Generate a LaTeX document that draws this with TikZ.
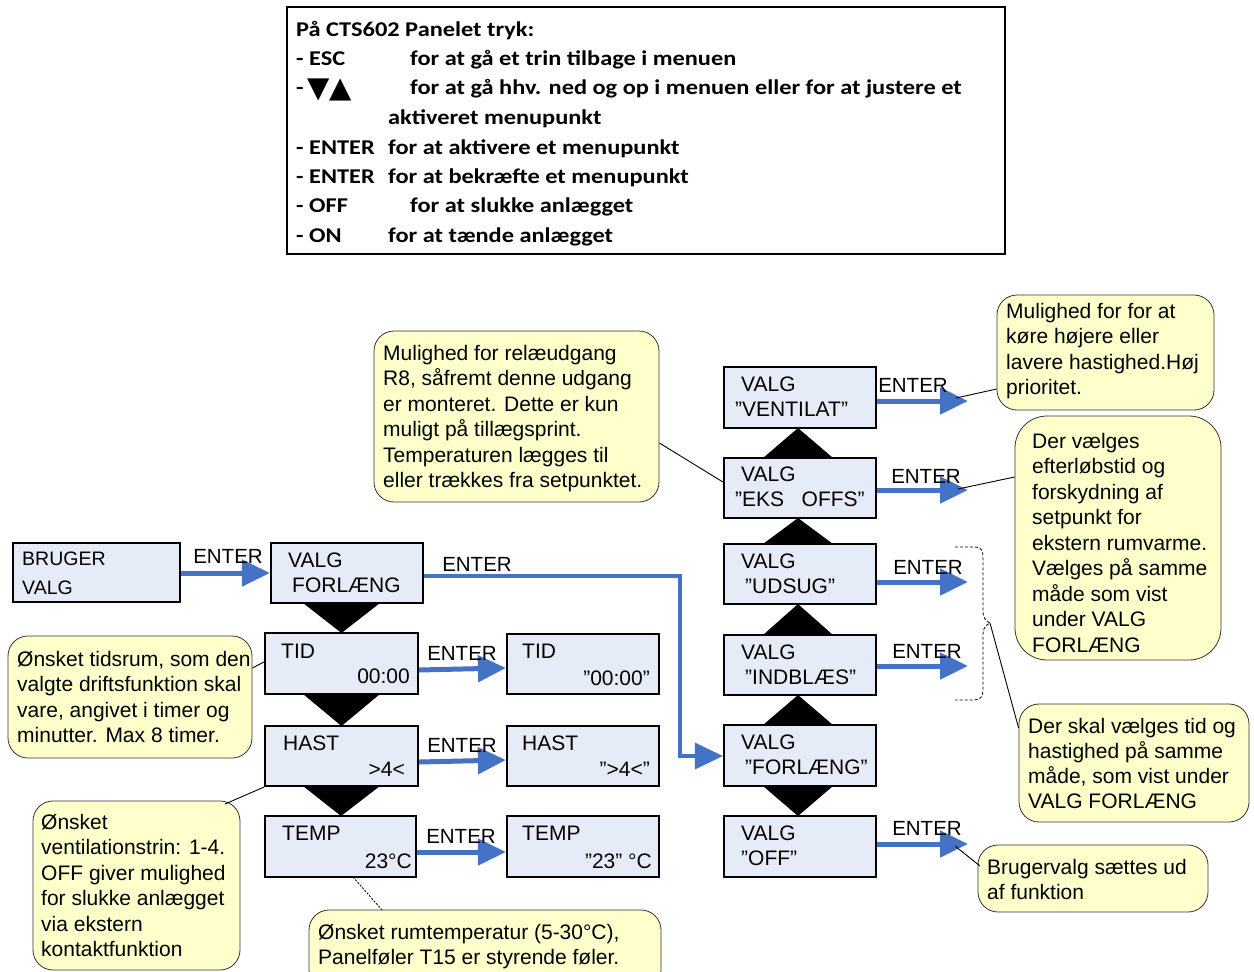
\documentclass[tikz,border=0pt]{standalone}
\usepackage{fontspec}
\setmainfont{Liberation Sans}
\newfontfamily\calib[FakeStretch=1.16]{Carlito}
\newfontfamily\dejavu{DejaVu Sans}
\usetikzlibrary{arrows.meta,calc}
\definecolor{boxfill}{HTML}{E6ECF7}
\definecolor{arrblue}{HTML}{4472C4}
\definecolor{callfill}{HTML}{FFFFCC}
\newcommand\mybx[6][menu]{\node[#1, minimum width={(#5-#3)*1pt}, minimum height={(#6-#4)*1pt}] (#2) at ({(#3+#5)/2},{(#4+#6)/2}) {};}
\begin{document}
\begin{tikzpicture}[x=1pt,y=-1pt,
  menu/.style={draw=black, line width=2.2pt, fill=boxfill, inner sep=0pt},
  call/.style={draw=black!80, line width=0.8pt, fill=callfill, rounded corners=20pt, inner sep=0pt},
  tbox/.style={draw=black, line width=2pt, fill=white, inner sep=0pt},
  t/.style={inner sep=0pt, anchor=base west, font=\fontsize{21}{25.5}\selectfont},
  tr/.style={t, anchor=base east},
  ct/.style={t, align=left},
  lbl/.style={inner sep=0pt, anchor=base, font=\fontsize{20.5}{24}\selectfont},
  hd/.style={inner sep=0pt, anchor=base west, font=\calib\bfseries\fontsize{21}{24}\selectfont},
  enter/.style={draw=arrblue, line width=5pt, -{Triangle[length=28pt,width=26pt]}},
  ptr/.style={draw=black, line width=0.9pt},
]
\useasboundingbox (0,0) rectangle (1254,972);
% ---- top legend box
\mybx[tbox]{legend}{287}{7}{1005}{254}
\node[hd] (h0) at (296,36) {På CTS602 Panelet tryk:};
\node[hd] (h1) at (296,65) {- ESC};
\node[hd] (h1b) at (410,65) {for at gå et trin tilbage i menuen};
\node[hd] (h2) at (296,94) {-};
\node[inner sep=0pt, anchor=base west, font=\dejavu\fontsize{29}{30}\selectfont] (h2t) at (307,97) {▼▲};
\node[hd] (h2b) at (410,94) {for at gå hhv. ned og op i menuen eller for at justere et};
\node[hd] (h3b) at (388,124) {aktiveret menupunkt};
\node[hd] (h4) at (296,154) {- ENTER};
\node[hd] (h4b) at (388,154) {for at aktivere et menupunkt};
\node[hd] (h5) at (296,183) {- ENTER};
\node[hd] (h5b) at (388,183) {for at bekræfte et menupunkt};
\node[hd] (h6) at (296,212) {- OFF};
\node[hd] (h6b) at (410,212) {for at slukke anlægget};
\node[hd] (h7) at (296,242) {- ON};
\node[hd] (h7b) at (388,242) {for at tænde anlægget};

% ---- callouts (multi-line text placed by baseline of its last line)
\mybx[call]{c1}{997}{295}{1214}{410}
\node[ct] (c1t) at (1006,394.5) {Mulighed for for at\\køre højere eller\\lavere hastighed.Høj\\prioritet.};
\mybx[call,rounded corners=32pt]{c2}{1015}{416}{1221}{660}
\node[ct] (c2t) at (1032,652) {Der vælges\\efterløbstid og\\forskydning af\\setpunkt for\\ekstern rumvarme.\\Vælges på samme\\måde som vist\\under VALG\\FORLÆNG};
\mybx[call]{c3}{374}{331}{659}{502}
\node[ct] (c3t) at (383,487.5) {Mulighed for relæudgang\\R8, såfremt denne udgang\\er monteret. Dette er kun\\muligt på tillægsprint.\\Temperaturen lægges til\\eller trækkes fra setpunktet.};
\mybx[call]{c4}{8}{636}{252}{758}
\node[ct] (c4t) at (17,742.5) {Ønsket tidsrum, som den\\valgte driftsfunktion skal\\vare, angivet i timer og\\minutter. Max 8 timer.};
\mybx[call]{c5}{33}{801}{240}{970}
\node[ct] (c5t) at (41,956.5) {Ønsket\\ventilationstrin: 1-4.\\OFF giver mulighed\\for slukke anlægget\\via ekstern\\kontaktfunktion};
\mybx[call]{c6}{309}{910}{661}{990}
\node[ct] (c6t) at (318,964.5) {Ønsket rumtemperatur (5-30°C),\\Panelføler T15 er styrende føler.};
\mybx[call]{c7}{1019}{704}{1249}{822}
\node[ct, font=\fontsize{21}{25}\selectfont] (c7t) at (1028,808) {Der skal vælges tid og\\hastighed på samme\\måde, som vist under\\VALG FORLÆNG};
\mybx[call]{c8}{978}{845}{1208}{912}
\node[ct] (c8t) at (987,899.5) {Brugervalg sættes ud\\af funktion};

% ---- menu boxes
\mybx{brug}{13}{543}{180}{602}
\mybx{vf}{271}{543}{423}{603}
\mybx{tid}{265}{633}{418}{694}
\mybx{tid2}{507}{634}{659}{694}
\mybx{hast}{265}{726}{418}{786}
\mybx{hast2}{507}{726}{659}{786}
\mybx{temp}{265}{816}{416}{877}
\mybx{temp2}{507}{816}{659}{877}
\mybx{vent}{724}{367}{876}{428}
\mybx{eks}{724}{458}{876}{518}
\mybx{uds}{724}{544}{876}{604}
\mybx{ind}{724}{635}{876}{695}
\mybx{vforl}{724}{725}{876}{786}
\mybx{off}{724}{816}{876}{877}

% ---- box texts
\node[t,font=\fontsize{19.5}{24}\selectfont] (brug1) at (22,565) {BRUGER};
\node[t,font=\fontsize{19.5}{24}\selectfont] (brug2) at (22,594) {VALG};
\node[t] (vf1) at (288,567) {VALG};
\node[t] (vf2) at (292,592) {FORLÆNG};
\node[t] (tid1) at (281,658) {TID};
\node[tr] (tidv) at (410,683) {00:00};
\node[t] (tid21) at (522,658) {TID};
\node[tr] (tid2v) at (650,685) {”00:00”};
\node[t] (hast1) at (283,750) {HAST};
\node[tr] (hastv) at (405,776) {>4<};
\node[t] (hast21) at (522,750) {HAST};
\node[tr] (hast2v) at (650,776) {”>4<”};
\node[t] (temp1) at (282,840) {TEMP};
\node[tr] (tempv) at (412,868) {23°C};
\node[t] (temp21) at (522,840) {TEMP};
\node[tr] (temp2v) at (652,868) {”23" °C};
\node[t] (vent1) at (741,391) {VALG};
\node[t] (vent2) at (735,416) {”VENTILAT”};
\node[t] (eks1) at (741,481) {VALG};
\node[t] (eks2) at (735,506) {”EKS\ \ \ OFFS”};
\node[t] (uds1) at (741,568) {VALG};
\node[t] (uds2) at (745,593) {”UDSUG”};
\node[t] (ind1) at (741,659) {VALG};
\node[t] (ind2) at (745,684) {”INDBLÆS”};
\node[t] (vforl1) at (741,749) {VALG};
\node[t] (vforl2) at (745,774) {”FORLÆNG”};
\node[t] (off1) at (741,840) {VALG};
\node[t] (off2) at (741,865) {”OFF”};

% ---- triangles (navigation)
\fill (303,603) -- (380,603) -- (341.5,633) -- cycle;
\fill (303,694) -- (380,694) -- (341.5,726) -- cycle;
\fill (303,786) -- (380,786) -- (341,816) -- cycle;
\fill (763,458) -- (833,458) -- (798,428) -- cycle;
\fill (763,544) -- (833,544) -- (798,518) -- cycle;
\fill (763,635) -- (833,635) -- (798,604) -- cycle;
\fill (763,725) -- (833,725) -- (798,695) -- cycle;
\fill (763,786) -- (833,786) -- (798,816) -- cycle;

% ---- arrow ends
\coordinate (tBrug) at (271,573);
\coordinate (tTid) at (507,668);
\coordinate (tHast) at (507,760);
\coordinate (tTemp) at (507,852);
\coordinate (tVent) at (968,401);
\coordinate (tEks) at (968,490);
\coordinate (tUds) at (968,582);
\coordinate (tInd) at (968,666);
\coordinate (tOff) at (968,844);

% ---- ENTER arrows
\draw[enter] (brug.east |- tBrug) -- (vf.west |- tBrug);
\draw[enter, line width=3.5pt] (vf.east |- 0,576) -- (680,576) -- (680,756) -- (vforl.west |- 0,756);
\draw[enter] (tid.east |- 0,670) -- (tid2.west |- tTid);
\draw[enter] (hast.east |- 0,762) -- (hast2.west |- tHast);
\draw[enter] (temp.east |- tTemp) -- (temp2.west |- tTemp);
\draw[enter] (vent.east |- tVent) -- (tVent);
\draw[enter] (eks.east |- tEks) -- (tEks);
\draw[enter] (uds.east |- tUds) -- (tUds);
\draw[enter] (ind.east |- tInd) -- (tInd);
\draw[enter] (off.east |- tOff) -- (tOff);

% ---- ENTER labels
\node[lbl] (l1) at (228,563.5) {ENTER};
\node[lbl] (l2) at (477,571.5) {ENTER};
\node[lbl] (l3) at (462,660.5) {ENTER};
\node[lbl] (l4) at (462,752.5) {ENTER};
\node[lbl] (l5) at (461,843.5) {ENTER};
\node[lbl] (l6) at (913,392.5) {ENTER};
\node[lbl] (l7) at (926,483.5) {ENTER};
\node[lbl] (l8) at (928,574.5) {ENTER};
\node[lbl] (l9) at (927,658.5) {ENTER};
\node[lbl] (l10) at (927,835.5) {ENTER};

% ---- brace
\draw[line width=0.8pt, dash pattern=on 3pt off 2pt] (955,547) -- (974,547) .. controls (981,547) and (983,550) .. (983,557) -- (983,612) .. controls (983,618) and (986,621) .. (990,623) .. controls (986,625) and (983,628) .. (983,634) -- (983,690) .. controls (983,697) and (980,700) .. (974,700) -- (955,700);
\coordinate (braceTip) at (990,623);

% ---- pointer lines
\draw[ptr] (956,398) -- (c1.west |- 0,389);
\draw[ptr] (958,489) -- (c2.west |- 0,477);
\draw[ptr] (c3.east |- 0,443) -- (eks.west |- 0,482);
\draw[ptr] (c4.east |- 0,668) -- (tid.west |- 0,662);
\draw[ptr] (225,804) -- (hast.south west);
\draw[ptr, dash pattern=on 2pt off 1.5pt] (353,877) -- (382,910);
\draw[ptr] (braceTip) -- (c7.west |- 0,728);
\draw[ptr] (955,846) -- (980,866);
\end{tikzpicture}
\end{document}
